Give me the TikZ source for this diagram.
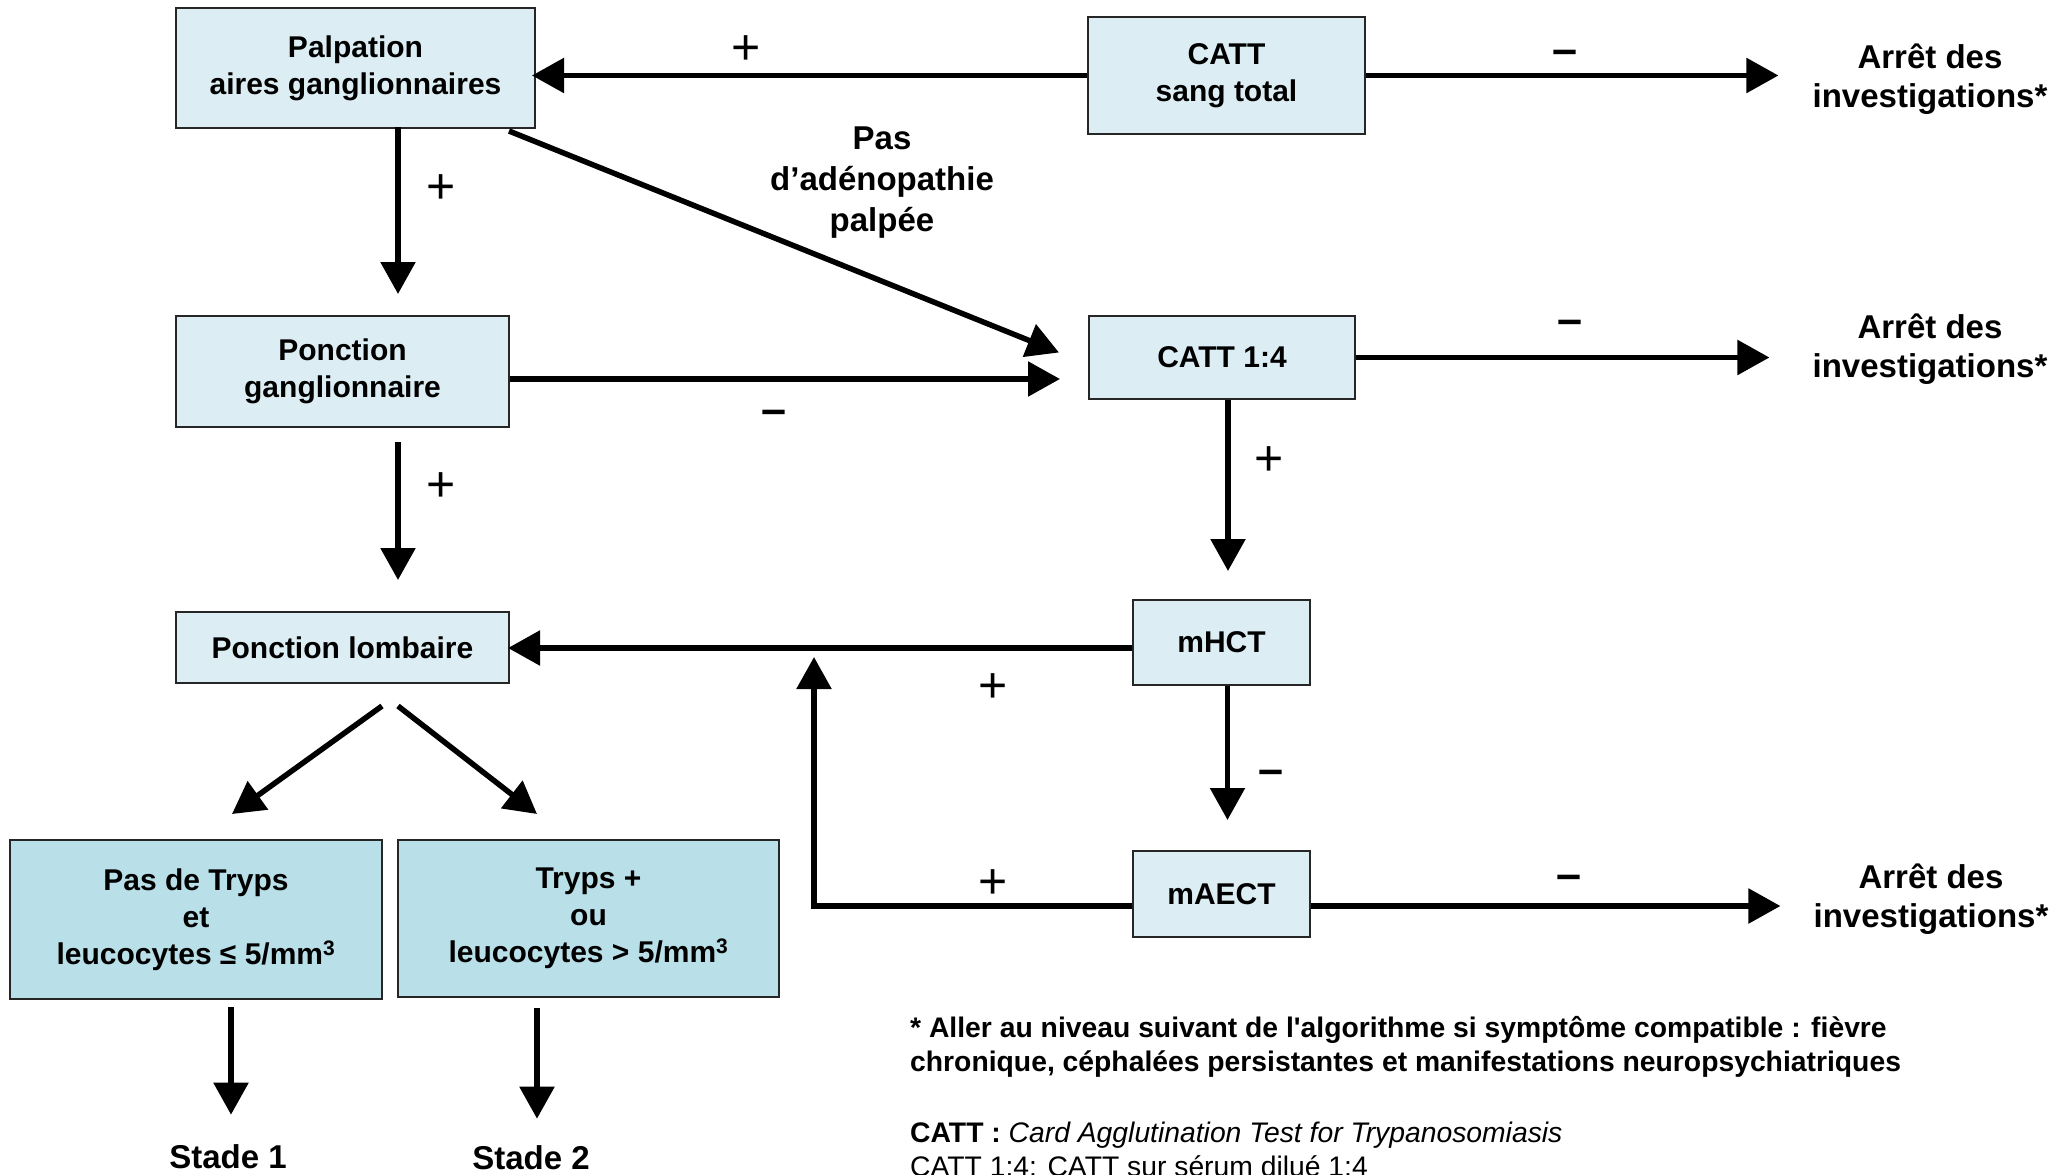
\documentclass[tikz,border=0pt]{standalone}
\usepackage{fontspec}
\setmainfont{Liberation Sans}
\usetikzlibrary{arrows.meta}
\definecolor{lightbox}{HTML}{DCEEF4}
\definecolor{darkbox}{HTML}{B9DFE8}
\begin{document}
\begin{tikzpicture}[x=1pt,y=-1pt,
  box/.style={draw=black!85, line width=2pt, fill=lightbox, align=center,
    font=\fontsize{30}{37}\selectfont\bfseries, inner sep=0pt},
  dbox/.style={box, fill=darkbox},
  conn/.style={line width=5.5pt, -{Triangle[length=32pt,width=34pt]}},
  plus/.style={font=\fontsize{50}{50}\selectfont, inner sep=0pt},
  minus/.style={font=\fontsize{45}{45}\selectfont\bfseries, inner sep=0pt},
  lbl/.style={align=center, font=\fontsize{33}{39}\selectfont\bfseries, inner sep=0pt},
  note/.style={anchor=base west, font=\fontsize{28.3}{34}\selectfont, inner sep=0pt}
]
\useasboundingbox (0,0) rectangle (2070,1175);
\fill[white] (0,0) rectangle (2070,1175);

% boxes
\node[box, minimum width=359pt, minimum height=120pt] (palp) at (355.5,68) {Palpation\\aires ganglionnaires};
\node[box, minimum width=277pt, minimum height=117pt] (cattst) at (1226.5,75.5) {\raisebox{-4pt}{\shortstack{}}CATT\\sang total};
\node[box, minimum width=333pt, minimum height=111pt] (pg) at (342.5,371.5) {Ponction\\ganglionnaire};
\node[box, minimum width=266pt, minimum height=83pt] (catt14) at (1222,357.5) {CATT 1:4};
\node[box, minimum width=333pt, minimum height=71pt] (pl) at (342.5,647.5) {Ponction lombaire};
\node[box, minimum width=177pt, minimum height=85pt] (mhct) at (1221.5,642.5) {mHCT};
\node[box, minimum width=177pt, minimum height=86pt] (maect) at (1221.5,894) {mAECT};
\node[dbox, minimum width=372pt, minimum height=159pt] (ptr) at (196,919.5) {Pas de Tryps\\et\\leucocytes ≤ 5/mm\textsuperscript{3}};
\node[dbox, minimum width=381pt, minimum height=157pt] (tryp) at (588.5,918.5) {Tryps +\\ou\\leucocytes > 5/mm\textsuperscript{3}};

% end texts
\node[lbl] (a1) at (1930,79) {Arrêt des\\investigations*};
\node[lbl] (a2) at (1930,349) {Arrêt des\\investigations*};
\node[lbl] (a3) at (1931,899) {Arrêt des\\investigations*};
\node[lbl] (s1) at (228,1157) {Stade 1};
\node[lbl] (s2) at (531,1158) {Stade 2};
\node[lbl, font=\fontsize{33}{41}\selectfont\bfseries] (pas) at (882,183) {Pas\\d’adénopathie\\palpée};

% connectors
\draw[conn, shorten >=-4pt] (cattst.west) -- (cattst.west -| palp.east);
\draw[conn, shorten >=34pt] (cattst.east) -- (cattst.east -| a1.west);
\draw[conn] ([xshift=-27pt,yshift=-2pt]palp.south east) -- ([xshift=-29pt,yshift=5pt]catt14.west);
\draw[conn, shorten >=28pt] ([yshift=-7.5pt]pg.east) -- ([yshift=-7.5pt]pg.east -| catt14.west);
\draw[conn, shorten >=43pt] (catt14.east) -- (catt14.east -| a2.west);
\draw[conn, shorten <=-2pt, shorten >=21pt] ([xshift=42.5pt]palp.south) -- ([xshift=42.5pt]palp.south |- pg.north);
\draw[conn, shorten <=14pt, shorten >=31pt] ([xshift=55.5pt]pg.south) -- ([xshift=55.5pt]pg.south |- pl.north);
\draw[conn] ([xshift=39.5pt,yshift=-22pt]pl.south) -- ([xshift=36pt,yshift=25pt]ptr.north);
\draw[conn] ([xshift=55.5pt,yshift=-22pt]pl.south) -- ([xshift=-51.5pt,yshift=25pt]tryp.north);
\draw[conn, shorten <=7pt, shorten >=30pt] ([xshift=35pt]ptr.south) -- ([xshift=35pt]ptr.south |- s1.north);
\draw[conn, shorten <=9.5pt, shorten >=27pt] ([xshift=-51.5pt]tryp.south) -- ([xshift=-51.5pt]tryp.south |- s2.north);
\draw[conn, shorten >=28pt] ([xshift=6pt]catt14.south) -- ([xshift=6pt]catt14.south |- mhct.north);
\draw[conn, shorten >=30pt] ([xshift=6pt]mhct.south) -- ([xshift=6pt]mhct.south |- maect.north);
\draw[conn, shorten >=-2pt] ([yshift=-5.5pt]mhct.west) -- ([yshift=-5.5pt]mhct.west -| pl.east);
\coordinate (up) at (814,657);
\draw[conn] ([yshift=-12pt]maect.west) -| (up);
\draw[conn, shorten >=33pt] ([yshift=-12pt]maect.east) -- ([yshift=-12pt]maect.east -| a3.west);

% signs
\node[plus] (p1) at (746,50) {+};
\node[plus] (p2) at (441,189) {+};
\node[plus] (p3) at (441,487) {+};
\node[plus] (p4) at (1269,461) {+};
\node[plus] (p5) at (993,688) {+};
\node[plus] (p6) at (993,884) {+};
\node[minus] (m1) at (1565,57) {–};
\node[minus] (m2) at (774,417) {–};
\node[minus] (m3) at (1570,327) {–};
\node[minus] (m4) at (1271,777) {–};
\node[minus] (m5) at (1569,882) {–};

% notes
\node[note, font=\fontsize{28.3}{34}\selectfont\bfseries] (n1) at (910,1037) {* Aller au niveau suivant de l\textquotesingle algorithme si symptôme compatible : fièvre};
\node[note, font=\fontsize{28.3}{34}\selectfont\bfseries] (n2) at (910,1071) {chronique, céphalées persistantes et manifestations neuropsychiatriques};
\node[note] (n3) at (910,1142) {\textbf{CATT :} \textit{Card Agglutination Test for Trypanosomiasis}};
\node[note] (n4) at (910,1176) {CATT 1:4: CATT sur sérum dilué 1:4};
\end{tikzpicture}
\end{document}
